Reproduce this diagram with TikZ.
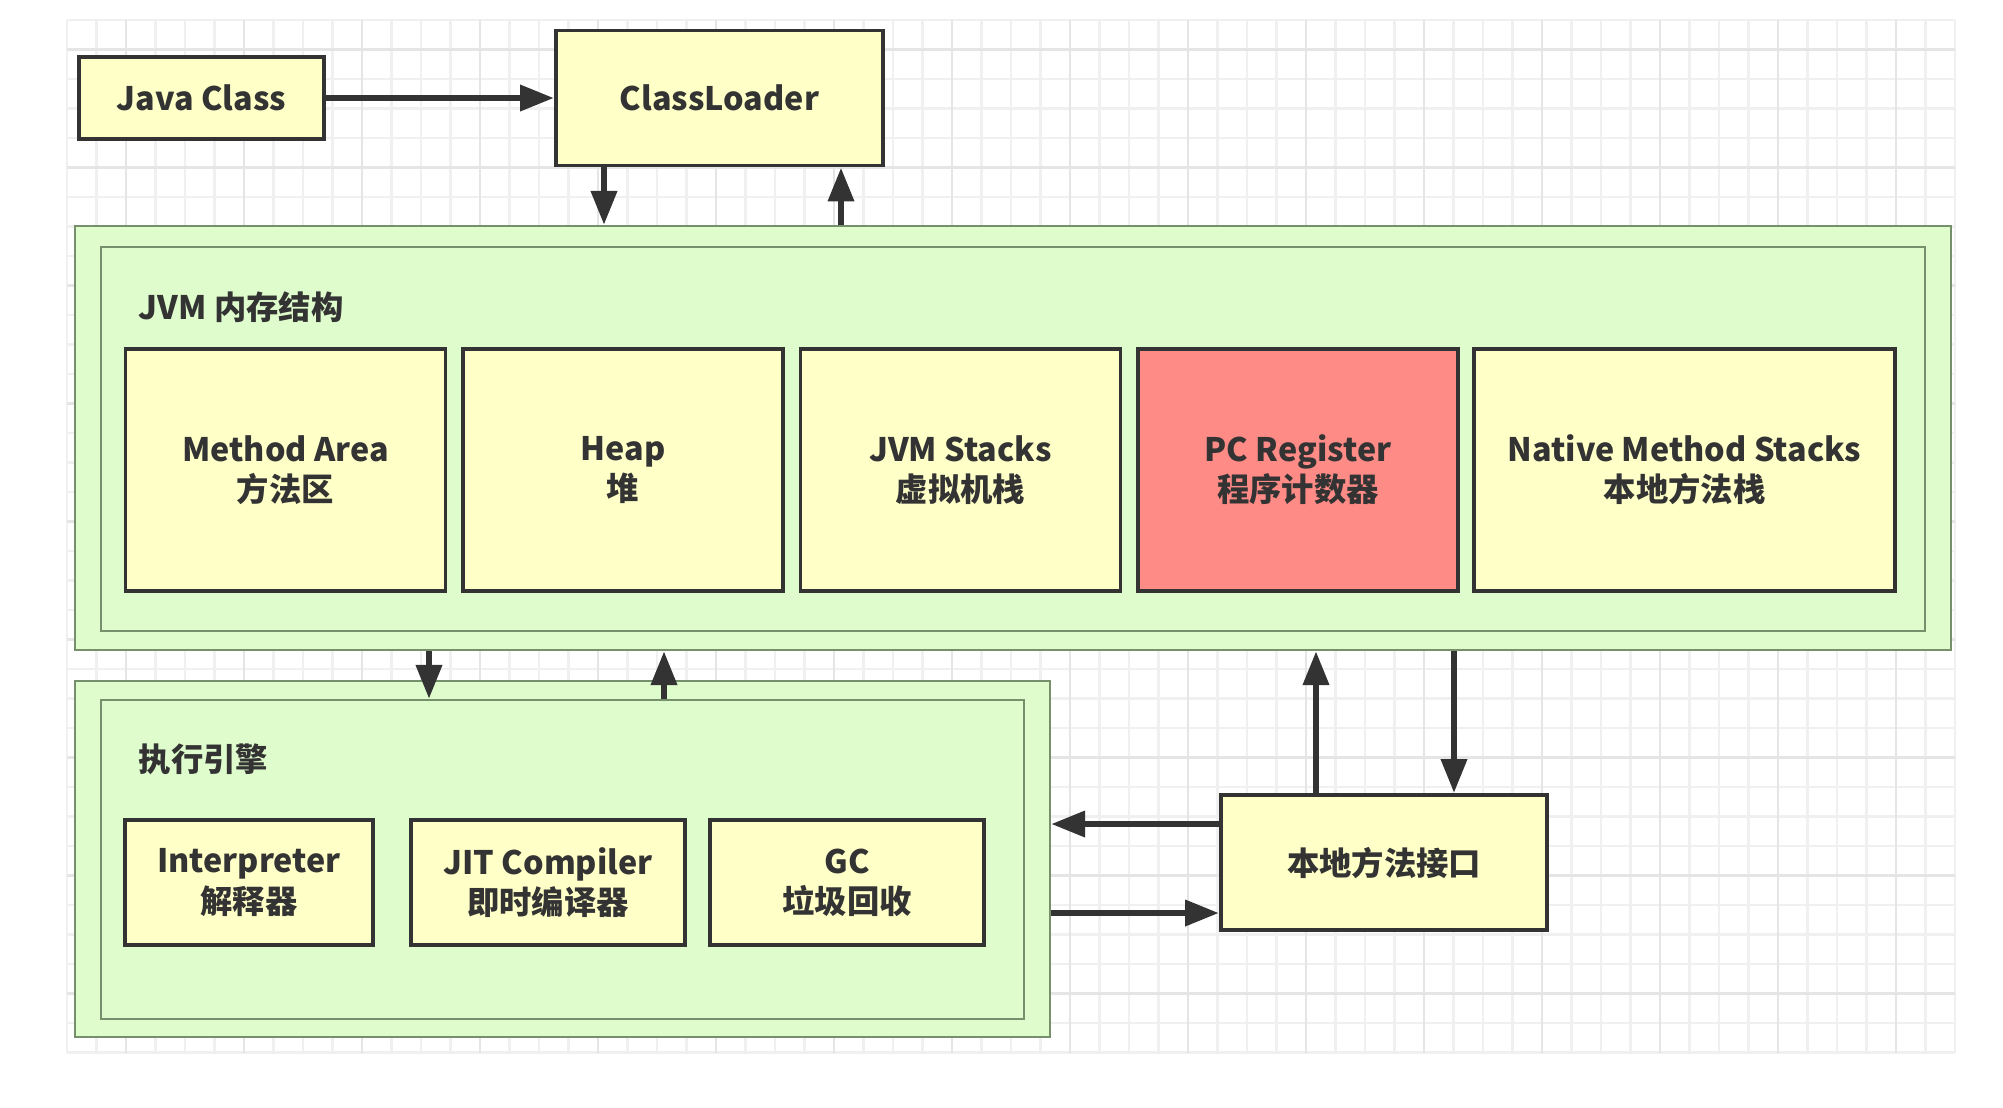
\documentclass[tikz,border=0pt]{standalone}
\usepackage{fontspec}
\setmainfont{Noto Sans CJK SC}
\usepackage{xcolor}
\usepackage{tikz}
\usetikzlibrary{positioning, arrows.meta}

\definecolor{boxyellow}{HTML}{FFFFC8}
\definecolor{areagreen}{HTML}{DFFCCC}
\definecolor{pcred}{HTML}{FF8B87}
\definecolor{inkgray}{HTML}{333333}
\definecolor{edgegreen}{HTML}{76906C}
\definecolor{gridgray}{HTML}{F0F0F0}
\definecolor{gridmajor}{HTML}{E5E5E5}

\begin{document}
\begin{tikzpicture}[on grid, >={Triangle[length=0.34cm, width=0.25cm]},
        every node/.style={font=\bfseries\fontsize{9.2}{11.4}\selectfont, text=inkgray},
        block/.style={draw=inkgray, line width=1.1pt, fill=boxyellow, align=center, inner sep=0pt},
        membox/.style={block, minimum width=3.2cm, minimum height=2.42cm},
        engbox/.style={block, minimum width=2.74cm, minimum height=1.25cm},
        area/.style={draw=edgegreen, line width=0.6pt, fill=areagreen, inner sep=0pt},
        title/.style={anchor=west, inner sep=0pt},
        flow/.style={->, inkgray, line width=1.9pt}]

        \useasboundingbox (0,0) rectangle (20.03,-11.07);
        \fill[white] (0,0) rectangle (20.03,-11.07);

        % background grid
        \foreach \i in {0,...,64}
            \draw[gridgray, line width=0.6pt] ({0.67+0.295*\i},-0.20) -- ({0.67+0.295*\i},-10.525);
        \foreach \j in {0,...,35}
            \draw[gridgray, line width=0.6pt] (0.67,{-0.20-0.295*\j}) -- (19.55,{-0.20-0.295*\j});
        \foreach \i in {2,6,...,62}
            \draw[gridmajor, line width=0.6pt] ({0.67+0.295*\i},-0.20) -- ({0.67+0.295*\i},-10.525);
        \foreach \j in {1,5,...,33}
            \draw[gridmajor, line width=0.6pt] (0.67,{-0.20-0.295*\j}) -- (19.55,{-0.20-0.295*\j});

        \node[block, minimum width=2.45cm, minimum height=0.82cm] (javaclass) at (2.015,-0.98) {Java Class};
        \node[block, minimum width=3.27cm, minimum height=1.35cm] (classloader) [right=5.18cm of javaclass] {ClassLoader};

        % JVM memory
        \node[area, minimum width=18.76cm, minimum height=4.24cm] (jvmouter) at (10.13,-4.38) {};
        \node[area, minimum width=18.24cm, minimum height=3.84cm] (jvminner) at (10.13,-4.39) {};
        \node[title] (jvmtitle) at (1.38,-3.07) {JVM 内存结构};

        \node[membox] (method) at (2.855,-4.70) {Method Area\\方法区};
        \node[membox] (heap) [right=3.375cm of method] {Heap\\堆};
        \node[membox] (stacks) [right=3.375cm of heap] {JVM Stacks\\虚拟机栈};
        \node[membox, fill=pcred] (pcreg) [right=3.375cm of stacks] {PC Register\\程序计数器};
        \node[membox, minimum width=4.21cm] (nativestacks) [right=3.865cm of pcreg] {Native Method Stacks\\本地方法栈};

        % execution engine
        \node[area, minimum width=9.75cm, minimum height=3.56cm] (execouter) at (5.625,-8.59) {};
        \node[area, minimum width=9.23cm, minimum height=3.19cm] (execinner) at (5.625,-8.595) {};
        \node[title] (exectitle) at (1.38,-7.59) {执行引擎};

        \node[engbox, minimum width=2.48cm] (interp) at (2.49,-8.825) {Interpreter\\解释器};
        \node[engbox] (jit) [right=2.99cm of interp] {JIT Compiler\\即时编译器};
        \node[engbox] (gc) [right=2.99cm of jit] {GC\\垃圾回收};

        \node[block, minimum width=3.26cm, minimum height=1.35cm] (nativeif) at (13.84,-8.625) {本地方法接口};

        \path[flow]
        (javaclass) edge (classloader)
        ([xshift=-1.155cm]classloader.south) edge ([xshift=-1.155cm]classloader.south |- jvmouter.north)
        ([xshift=1.215cm]classloader.south |- jvmouter.north) edge ([xshift=1.215cm]classloader.south)
        ([xshift=-1.335cm]execinner.north |- jvmouter.south) edge ([xshift=-1.335cm]execinner.north)
        ([xshift=1.015cm]execinner.north) edge ([xshift=1.015cm]execinner.north |- jvmouter.south)
        ([xshift=-0.68cm]nativeif.north) edge ([xshift=-0.68cm]nativeif.north |- jvmouter.south)
        ([xshift=0.70cm]nativeif.north |- jvmouter.south) edge ([xshift=0.70cm]nativeif.north)
        ([yshift=0.385cm]nativeif.west) edge ([yshift=0.385cm]nativeif.west -| execouter.east)
        ([yshift=-0.505cm]nativeif.west -| execouter.east) edge ([yshift=-0.505cm]nativeif.west);

    \end{tikzpicture}
\end{document}
